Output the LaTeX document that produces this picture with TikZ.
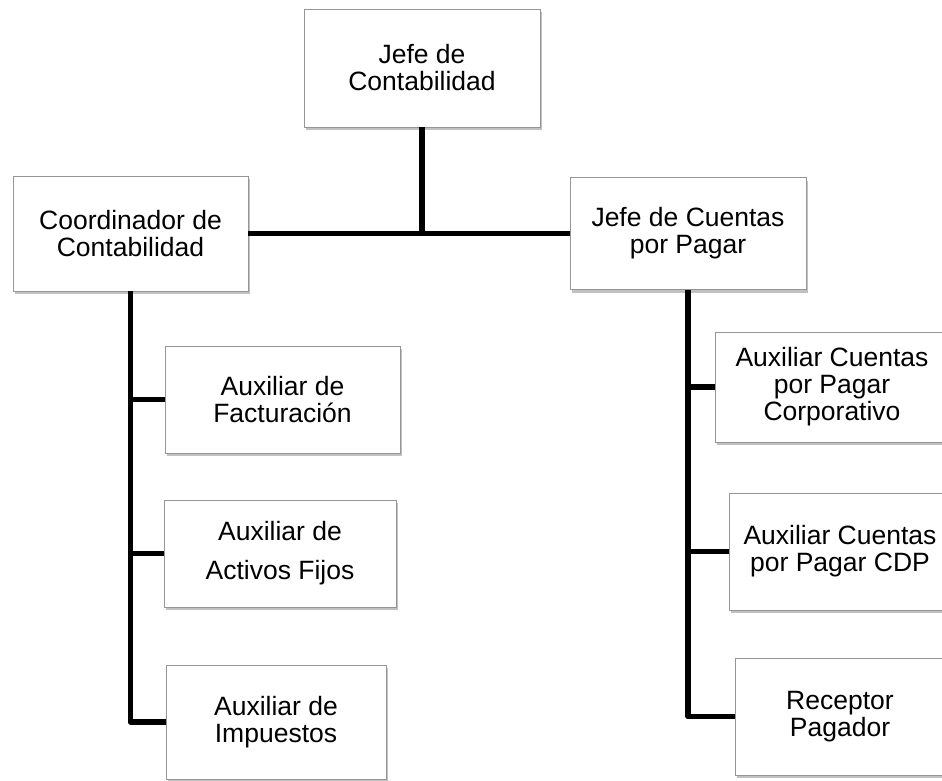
\documentclass[tikz,border=0pt]{standalone}
\usepackage{fontspec}
\setmainfont{Liberation Sans}
\usetikzlibrary{shadows}
\definecolor{boxborder}{RGB}{150,150,150}
\tikzset{
  orgbox/.style={draw=boxborder, line width=0.8pt, fill=white, align=center,
    font=\fontsize{26.5}{27}\selectfont, inner sep=0pt,
    drop shadow={shadow xshift=1.5pt, shadow yshift=-3pt, opacity=0.4, fill=black!60}},
  link/.style={line width=5.5pt, line join=round, line cap=butt}
}
\newcommand{\orgnode}[6]{\node[orgbox, minimum width=#4pt, minimum height=#5pt] (#1) at (#2,#3) {#6};}
\begin{document}
\begin{tikzpicture}[x=1pt,y=-1pt]
\clip (0,0) rectangle (942,781);
\fill[white] (0,0) rectangle (942,781);
\orgnode{top}{422}{68}{236}{118}{Jefe de\\Contabilidad}
\orgnode{coord}{130.5}{233.5}{235}{115}{Coordinador de\\Contabilidad}
\orgnode{cuentas}{688}{233.5}{236}{112}{Jefe de Cuentas\\por Pagar}
\orgnode{fact}{282.5}{399.5}{235}{107}{Auxiliar de\\Facturación}
\orgnode{act}{280}{553.5}{232}{107}{Auxiliar de\\[12pt]Activos Fijos}
\orgnode{imp}{276}{722}{220}{114}{Auxiliar de\\Impuestos}
\orgnode{corp}{832}{387}{234}{110}{Auxiliar Cuentas\\por Pagar\\Corporativo}
\orgnode{cdp}{840}{551.5}{222}{117}{Auxiliar Cuentas\\por Pagar CDP}
\orgnode{rec}{840}{716.5}{210}{117}{Receptor\\Pagador}
\coordinate (hub) at (422,233.5);
\draw[link] (top.south) -- (hub);
\draw[link] (coord.east) -- (cuentas.west);
\draw[link] (coord.south) |- (imp.west);
\draw[link] (coord.south |- fact.west) -- (fact.west);
\draw[link] (coord.south |- act.west) -- (act.west);
\draw[link] (cuentas.south) |- (rec.west);
\draw[link] (cuentas.south |- corp.west) -- (corp.west);
\draw[link] (cuentas.south |- cdp.west) -- (cdp.west);
\end{tikzpicture}
\end{document}
